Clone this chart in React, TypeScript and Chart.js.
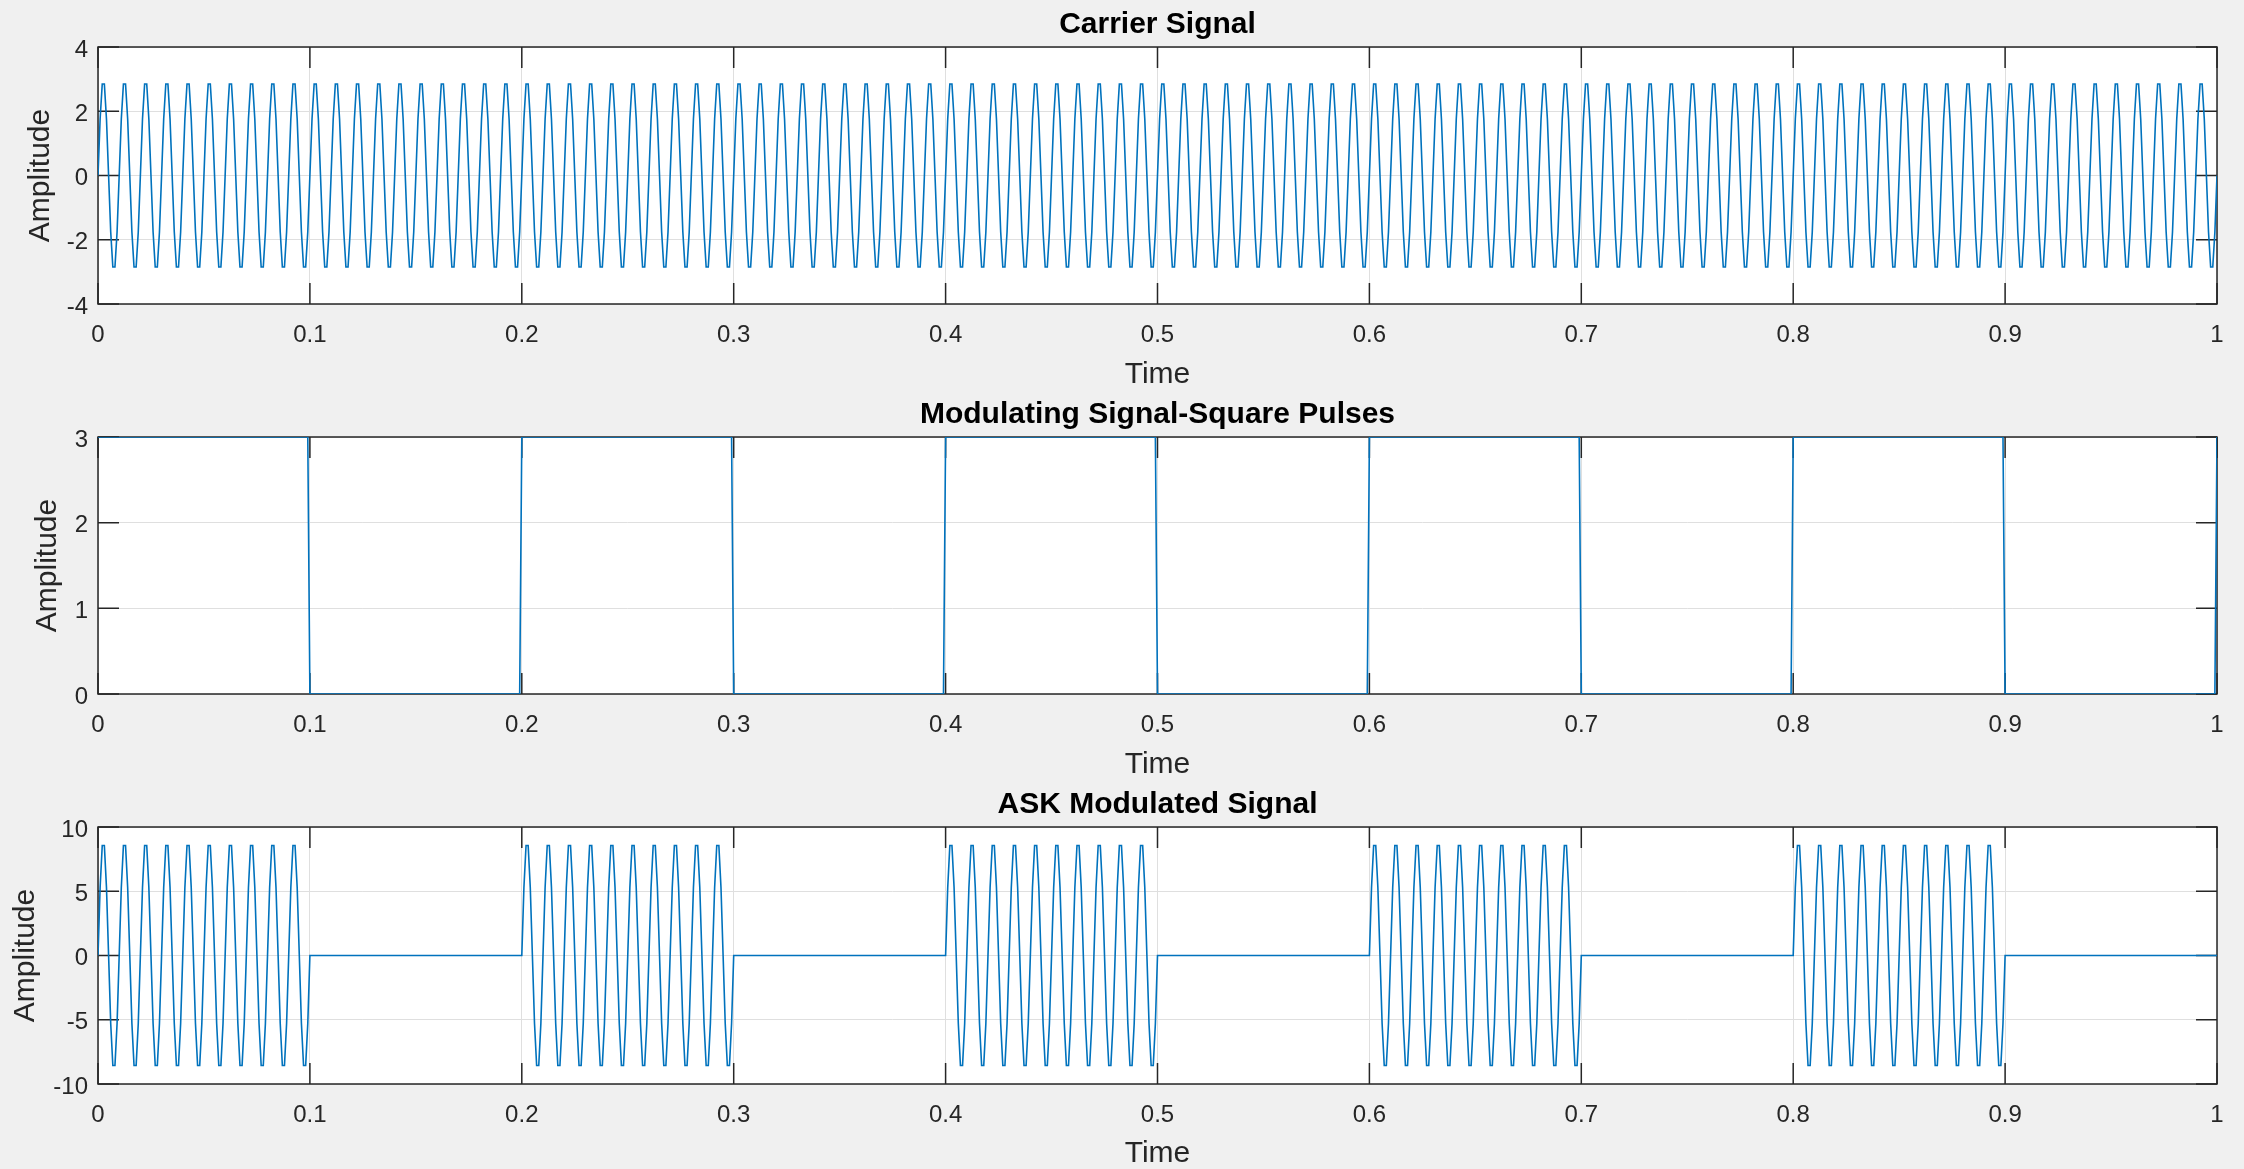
import React, { useEffect, useRef } from 'react';
import { Chart, registerables } from 'chart.js';

Chart.register(...registerables);
Chart.defaults.font.family = '"Liberation Sans", Arial, Helvetica, sans-serif';

// ---- data ----
const sampleStep = 0.001; // seconds between samples
const sampleCount = 1001; // 0 .. 1 s
// one period of the carrier (10 samples per 0.01 s period)
const carrierCycle = [0, 1.76, 2.85, 2.85, 1.76, 0, -1.76, -2.85, -2.85, -1.76];
// one period of the ASK output while the pulse is on
const askCycle = [0, 5.29, 8.56, 8.56, 5.29, 0, -5.29, -8.56, -8.56, -5.29];
// modulating square pulse level for each 0.1 s slot (last entry = t = 1 s)
const pulseSlotSamples = 100;
const pulseLevels = [3, 0, 3, 0, 3, 0, 3, 0, 3, 0, 3];

const xTickValues = [0, 0.1, 0.2, 0.3, 0.4, 0.5, 0.6, 0.7, 0.8, 0.9, 1];
const xTickLabels = ['0', '0.1', '0.2', '0.3', '0.4', '0.5', '0.6', '0.7', '0.8', '0.9', '1'];
const carrierYTicks = [-4, -2, 0, 2, 4];
const carrierYLabels = ['-4', '-2', '0', '2', '4'];
const pulseYTicks = [0, 1, 2, 3];
const pulseYLabels = ['0', '1', '2', '3'];
const askYTicks = [-10, -5, 0, 5, 10];
const askYLabels = ['-10', '-5', '0', '5', '10'];

const titles = ['Carrier Signal', 'Modulating Signal-Square Pulses', 'ASK Modulated Signal'];

const timeAxis = Array.from({ length: sampleCount }, (_, i) => i * sampleStep);
const carrierSeries = timeAxis.map((t, i) => ({ x: t, y: carrierCycle[i % carrierCycle.length] }));
const pulseSeries = timeAxis.map((t, i) => ({ x: t, y: pulseLevels[Math.floor(i / pulseSlotSamples)] }));
const askSeries = timeAxis.map((t, i) => ({
  x: t,
  y: pulseLevels[Math.floor(i / pulseSlotSamples)] > 0 ? askCycle[i % askCycle.length] : 0,
}));

// ---- styling ----
const LINE_COLOR = '#0072BD';
const AXIS_COLOR = '#262626';
const GRID_COLOR = '#dfdfdf';
const TICK_LEN = 21;

const axesPlugin = {
  id: 'matlabAxes',
  beforeDraw(chart: any) {
    const { ctx, chartArea } = chart;
    ctx.save();
    ctx.fillStyle = '#ffffff';
    ctx.fillRect(chartArea.left, chartArea.top, chartArea.right - chartArea.left, chartArea.bottom - chartArea.top);
    ctx.restore();
  },
  beforeDatasetsDraw(chart: any) {
    const { ctx, chartArea, scales } = chart;
    const { left, right, top, bottom } = chartArea;
    ctx.save();
    ctx.strokeStyle = AXIS_COLOR;
    ctx.lineWidth = 1.5;
    ctx.beginPath();
    scales.x.ticks.forEach((tk: any) => {
      const px = scales.x.getPixelForValue(tk.value);
      ctx.moveTo(px, bottom);
      ctx.lineTo(px, bottom - TICK_LEN);
      ctx.moveTo(px, top);
      ctx.lineTo(px, top + TICK_LEN);
    });
    scales.y.ticks.forEach((tk: any) => {
      const py = scales.y.getPixelForValue(tk.value);
      ctx.moveTo(left, py);
      ctx.lineTo(left + TICK_LEN, py);
      ctx.moveTo(right, py);
      ctx.lineTo(right - TICK_LEN, py);
    });
    ctx.stroke();
    ctx.strokeRect(left, top, right - left, bottom - top);
    ctx.restore();
  },
};

type SubPlotProps = {
  top: number;
  height: number;
  title: string;
  data: { x: number; y: number }[];
  yMin: number;
  yMax: number;
  yTicks: number[];
  yLabels: string[];
  yTitlePad: number;
};

function SubPlot({ top, height, title, data, yMin, yMax, yTicks, yLabels, yTitlePad }: SubPlotProps) {
  const ref = useRef<HTMLCanvasElement | null>(null);
  useEffect(() => {
    if (!ref.current) return;
    const xScaleHeight = height - 304;
    const chart = new Chart(ref.current, {
      type: 'line',
      data: {
        datasets: [
          {
            data,
            borderColor: LINE_COLOR,
            borderWidth: 1.6,
            pointRadius: 0,
            tension: 0,
            fill: false,
          },
        ],
      },
      options: {
        animation: false,
        responsive: false,
        devicePixelRatio: 1,
        events: [],
        layout: { padding: { left: 0, right: 27, top: 0, bottom: 0 } },
        plugins: {
          legend: { display: false },
          tooltip: { enabled: false },
          title: {
            display: true,
            text: title,
            fullSize: false,
            color: '#000000',
            font: { size: 30, weight: 'bold', lineHeight: 1 },
            padding: { top: 10, bottom: 7 },
          },
        },
        scales: {
          x: {
            type: 'linear',
            min: 0,
            max: 1,
            afterBuildTicks: (s: any) => {
              s.ticks = xTickValues.map((v) => ({ value: v }));
            },
            afterFit: (s: any) => {
              s.height = xScaleHeight;
            },
            grid: { color: GRID_COLOR, lineWidth: 1, drawTicks: false },
            border: { display: false },
            ticks: {
              autoSkip: false,
              maxRotation: 0,
              minRotation: 0,
              padding: 17,
              color: AXIS_COLOR,
              font: { size: 24 },
              callback: (_v: any, i: number) => xTickLabels[i],
            },
            title: {
              display: true,
              text: 'Time',
              color: AXIS_COLOR,
              font: { size: 30, lineHeight: 1 },
              padding: { top: 0, bottom: 0 },
            },
          },
          y: {
            type: 'linear',
            min: yMin,
            max: yMax,
            afterBuildTicks: (s: any) => {
              s.ticks = yTicks.map((v) => ({ value: v }));
            },
            afterFit: (s: any) => {
              s.width = 98;
            },
            grid: { color: GRID_COLOR, lineWidth: 1, drawTicks: false },
            border: { display: false },
            ticks: {
              autoSkip: false,
              padding: 10,
              labelOffset: 3,
              color: AXIS_COLOR,
              font: { size: 24 },
              callback: (_v: any, i: number) => yLabels[i],
            },
            title: {
              display: true,
              text: 'Amplitude',
              color: AXIS_COLOR,
              font: { size: 30, lineHeight: 1 },
              padding: { top: yTitlePad, bottom: 0 },
            },
          },
        },
      } as any,
      plugins: [axesPlugin],
    });
    return () => chart.destroy();
  }, []);
  return (
    <canvas
      ref={ref}
      width={2244}
      height={height}
      style={{ position: 'absolute', left: 0, top, width: 2244, height, display: 'block' }}
    />
  );
}

export default function App() {
  return (
    <div
      style={{
        position: 'fixed',
        left: 0,
        top: 0,
        width: 2244,
        height: 1169,
        background: '#f0f0f0',
        overflow: 'hidden',
      }}
    >
      <SubPlot top={0} height={390} title={titles[0]} data={carrierSeries} yMin={-4} yMax={4} yTicks={carrierYTicks} yLabels={carrierYLabels} yTitlePad={26} />
      <SubPlot top={390} height={390} title={titles[1]} data={pulseSeries} yMin={0} yMax={3} yTicks={pulseYTicks} yLabels={pulseYLabels} yTitlePad={33} />
      <SubPlot top={780} height={389} title={titles[2]} data={askSeries} yMin={-10} yMax={10} yTicks={askYTicks} yLabels={askYLabels} yTitlePad={11} />
    </div>
  );
}
